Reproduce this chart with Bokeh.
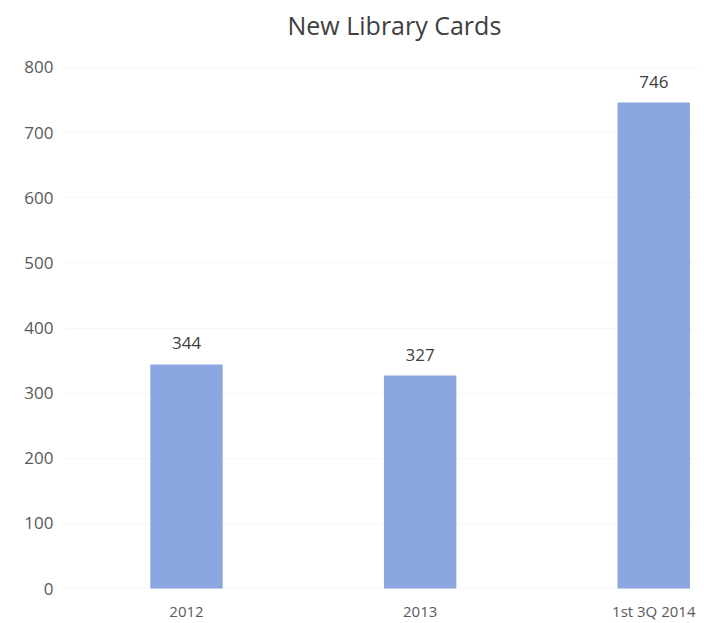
from bokeh.plotting import figure
from bokeh.models import FixedTicker, Range1d, ColumnDataSource, LabelSet
from bokeh.core.properties import value
from bokeh.embed import file_html
from bokeh.resources import INLINE

title_text = "New Library Cards"
categories = ["2012", "2013", "1st 3Q 2014"]
values = [344, 327, 746]
y_ticks = [0, 100, 200, 300, 400, 500, 600, 700, 800]

xs = list(range(len(categories)))
src = ColumnDataSource(dict(x=xs, top=values, label=[str(v) for v in values]))

FONT = "Open Sans"

p = figure(width=704, height=623, output_backend="svg", toolbar_location=None,
           x_range=Range1d(-0.518, 2.2), y_range=Range1d(-6, 826),
           min_border_left=65, min_border_right=4, min_border_top=50, min_border_bottom=31)

p.vbar(x="x", top="top", width=0.31, bottom=0, source=src,
       fill_color="#8ba6e0", line_color=None)

labels = LabelSet(x="x", y="top", text="label", source=src, text_align="center",
                  text_baseline="bottom", y_offset=15, text_font=value(FONT),
                  text_font_size=value("17px"), text_color="#404040")
p.add_layout(labels)

p.title.text = title_text
p.title.align = "left"
p.title.offset = 222
p.title.standoff = 13
p.title.vertical_align = "top"
p.title.text_font = FONT
p.title.text_font_size = "25px"
p.title.text_font_style = "normal"
p.title.text_color = "#404040"

p.xaxis.ticker = FixedTicker(ticks=xs)
p.xaxis.major_label_overrides = {i: c for i, c in zip(xs, categories)}
p.yaxis.ticker = FixedTicker(ticks=y_ticks)

for ax in (p.xaxis, p.yaxis):
    ax.axis_line_color = None
    ax.major_tick_line_color = None
    ax.minor_tick_line_color = None
    ax.major_tick_out = 0
    ax.major_tick_in = 0
    ax.major_label_text_font = FONT
    ax.major_label_text_color = "#595959"
p.xaxis.major_label_text_font_size = "15px"
p.yaxis.major_label_text_font_size = "17px"
p.xaxis.major_label_standoff = 8
p.yaxis.major_label_standoff = 12

p.xgrid.grid_line_color = None
p.ygrid.grid_line_color = "#f7f7f7"
p.outline_line_color = None

open("out.html", "w").write(file_html(p, INLINE))
